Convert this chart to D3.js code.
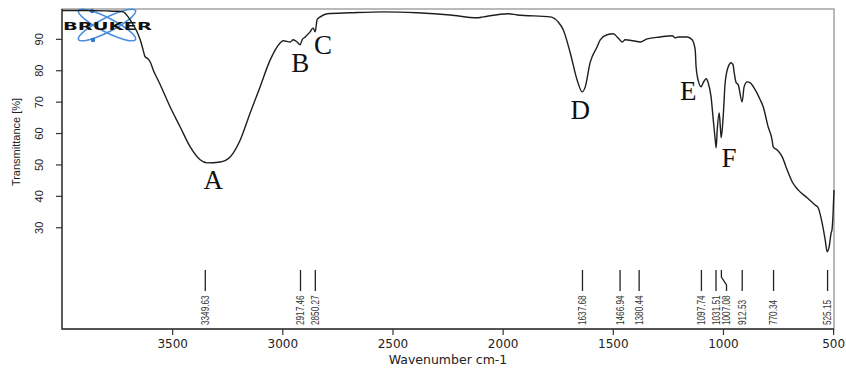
<!DOCTYPE html>
<html>
<head>
<meta charset="utf-8">
<script src="https://cdn.jsdelivr.net/npm/d3@7"></script>
<style>
  body { margin: 0; background: #fff; }
  svg { display: block; }
</style>
</head>
<body>
<svg id="chart" width="846" height="370"></svg>
<script>
// spectrum (wavenumber cm-1, transmittance %)
const wavenumber = [4000, 3900, 3800, 3760, 3740, 3722, 3700, 3677, 3659, 3645, 3632, 3623, 3609, 3600, 3586,
  3554, 3509, 3464, 3418, 3373, 3341, 3282, 3237, 3191, 3146, 3101, 3055, 3010, 2996, 2964, 2951, 2933,
  2919, 2910, 2896, 2874, 2860, 2851, 2842, 2828, 2796, 2692, 2542, 2388, 2238, 2116, 2088, 1975, 1934,
  1784, 1748, 1725, 1693, 1662, 1639, 1625, 1603, 1571, 1557, 1526, 1498, 1476, 1457, 1444, 1408, 1376,
  1344, 1285, 1230, 1217, 1203, 1162, 1140, 1126, 1122, 1113, 1099, 1090, 1076, 1067, 1054, 1044, 1035,
  1031, 1026, 1017, 1012, 1008, 999, 990, 976, 963, 954, 949, 940, 931, 913, 904, 890, 876, 854, 831,
  817, 795, 777, 772, 754, 731, 709, 686, 659, 618, 582, 568, 550, 536, 527, 518, 509, 505, 500, 496];
const transmittance = [99.0, 99.0, 98.9, 98.8, 98.8, 98.6, 97.0, 94.5, 92.2, 89.7, 86.5, 84.3, 83.6, 82.7, 80.1,
  75.4, 68.3, 62.0, 55.6, 51.5, 50.5, 50.8, 52.4, 57.8, 66.4, 74.7, 83.3, 88.7, 89.4, 89.0, 89.7, 89.0,
  88.1, 89.7, 90.6, 92.2, 93.5, 92.2, 96.1, 97.0, 98.0, 98.3, 98.6, 98.3, 97.6, 96.7, 97.0, 98.0, 97.6,
  97.0, 95.4, 92.9, 85.5, 76.9, 73.1, 74.7, 82.4, 87.5, 89.7, 91.3, 91.6, 90.3, 89.0, 89.7, 89.4, 89.0,
  90.0, 90.6, 91.0, 90.3, 90.6, 90.6, 89.7, 86.5, 81.1, 76.9, 74.7, 76.0, 77.3, 76.0, 71.5, 64.2, 57.8,
  55.3, 61.0, 66.4, 62.0, 58.5, 65.2, 76.0, 81.1, 82.4, 81.7, 79.2, 76.0, 75.4, 69.9, 74.7, 76.3, 76.0, 73.8, 70.6,
  68.3, 62.0, 57.8, 55.6, 54.6, 52.4, 48.3, 44.5, 41.9, 39.4, 37.1, 36.2, 31.4, 26.0, 22.2, 23.8, 28.2, 29.2, 34.6, 41.9];

const peakPositions = [3349.63, 2917.46, 2850.27, 1637.68, 1466.94, 1380.44, 1097.74, 1031.51, 1007.08, 912.53, 770.34, 525.15];
const peakTexts = ["3349.63", "2917.46", "2850.27", "1637.68", "1466.94", "1380.44", "1097.74", "1031.51", "1007.08", "912.53", "770.34", "525.15"];

const bandLetters = ["A", "B", "C", "D", "E", "F"];
const bandLetterWavenumber = [3314, 2919, 2815, 1648, 1158, 972];
const bandLetterTransmittance = [45.1, 82.4, 88.1, 67.4, 73.4, 52.1];

const xTicks = [3500, 3000, 2500, 2000, 1500, 1000, 500];
const yTicks = [30, 40, 50, 60, 70, 80, 90];

const plot = { left: 62, right: 834, top: 9, bottom: 329 };

const svg = d3.select("#chart");

const x = d3.scaleLinear().domain([4000, 496]).range([plot.left, plot.right]);
const y = d3.scaleLinear().domain([-2.4, 99.5]).range([plot.bottom, plot.top]);

// frame
svg.append("rect")
  .attr("x", plot.left).attr("y", plot.top)
  .attr("width", plot.right - plot.left).attr("height", plot.bottom - plot.top)
  .attr("fill", "none").attr("stroke", "#8c8c8c").attr("stroke-width", 1.2);
svg.append("path")
  .attr("d", `M${plot.left},${plot.top}V${plot.bottom}H${plot.right}`)
  .attr("fill", "none").attr("stroke", "#333").attr("stroke-width", 1.4);

// x axis
const xAxis = svg.append("g")
  .attr("transform", "translate(0," + plot.bottom + ")")
  .call(d3.axisBottom(x).tickValues(xTicks).tickSize(6).tickPadding(4).tickFormat(d3.format("d")));
xAxis.select(".domain").remove();
xAxis.selectAll("line").attr("stroke", "#333").attr("stroke-width", 1.2);
xAxis.selectAll("text")
  .style("font-family", "'DejaVu Sans', sans-serif")
  .style("font-size", "12px")
  .attr("fill", "#222");

// y axis
const yAxis = svg.append("g")
  .attr("transform", "translate(" + plot.left + ",0)")
  .call(d3.axisLeft(y).tickValues(yTicks).tickSize(6));
yAxis.select(".domain").remove();
yAxis.selectAll("line").attr("stroke", "#333").attr("stroke-width", 1.2);
yAxis.selectAll("text")
  .attr("x", null).attr("dy", null)
  .attr("text-anchor", "middle")
  .attr("transform", "translate(-19,0) rotate(-90)")
  .style("font-family", "'Liberation Sans', Arial, sans-serif")
  .style("font-size", "11px")
  .attr("fill", "#222");

// axis titles
svg.append("text")
  .attr("x", (plot.left + plot.right) / 2).attr("y", 364)
  .attr("text-anchor", "middle")
  .style("font-family", "'DejaVu Sans', sans-serif")
  .style("font-size", "12.5px")
  .attr("fill", "#222")
  .text("Wavenumber cm-1");

svg.append("text")
  .attr("transform", "translate(20,142) rotate(-90)")
  .attr("text-anchor", "middle")
  .style("font-family", "'Liberation Sans', Arial, sans-serif")
  .style("font-size", "11px")
  .attr("fill", "#222")
  .text("Transmittance [%]");

// Bruker logo
const logo = svg.append("g").attr("transform", "translate(107,25)");
[-27, 27].forEach(a => {
  logo.append("ellipse")
    .attr("rx", 32).attr("ry", 7)
    .attr("transform", "rotate(" + a + ")")
    .attr("fill", "none").attr("stroke", "#4a8fdc").attr("stroke-width", 1.6);
});
logo.append("circle").attr("cx", -14).attr("cy", 15).attr("r", 2.2).attr("fill", "#2f78cc");
logo.append("circle").attr("cx", -15).attr("cy", -14).attr("r", 2.2).attr("fill", "#2f78cc");
svg.append("text")
  .attr("x", 63).attr("y", 29.5)
  .attr("textLength", 89).attr("lengthAdjust", "spacingAndGlyphs")
  .style("font-family", "'DejaVu Sans', sans-serif")
  .style("font-size", "10.5px").style("font-weight", "bold")
  .attr("fill", "#111")
  .text("BRUKER");

// spectrum
svg.append("clipPath").attr("id", "clip")
  .append("rect")
  .attr("x", plot.left).attr("y", plot.top)
  .attr("width", plot.right - plot.left + 1).attr("height", plot.bottom - plot.top);

const line = d3.line()
  .x((d, i) => x(wavenumber[i]))
  .y((d, i) => y(transmittance[i]))
  .curve(d3.curveMonotoneX);

svg.append("path")
  .datum(wavenumber)
  .attr("clip-path", "url(#clip)")
  .attr("d", line)
  .attr("fill", "none")
  .attr("stroke", "#1e1e1e")
  .attr("stroke-width", 1.4)
  .attr("stroke-linejoin", "round");

// peak markers with labels, labels pushed apart when they would overlap
let prevLabelX = -Infinity;
const peaks = peakPositions.map((p, i) => {
  const px = x(p);
  const lx = Math.max(px, prevLabelX + 10.5);
  prevLabelX = lx;
  return { px, lx, text: peakTexts[i] };
});

const peakG = svg.append("g");
peakG.selectAll("path")
  .data(peaks)
  .enter()
  .append("path")
  .attr("d", d => d.lx === d.px
    ? `M${d.px},270V291`
    : `M${d.px},270V277L${d.lx},285V291`)
  .attr("fill", "none")
  .attr("stroke", "#222")
  .attr("stroke-width", 1.3);

peakG.selectAll("text")
  .data(peaks)
  .enter()
  .append("text")
  .attr("transform", d => "translate(" + (d.lx + 3.6) + ",325) rotate(-90) scale(0.82,1)")
  .attr("text-anchor", "start")
  .style("font-family", "'Liberation Sans', Arial, sans-serif")
  .style("font-size", "10px")
  .attr("fill", "#333")
  .text(d => d.text);

// band letters
svg.append("g").selectAll("text")
  .data(bandLetters)
  .enter()
  .append("text")
  .attr("x", (d, i) => x(bandLetterWavenumber[i]))
  .attr("y", (d, i) => y(bandLetterTransmittance[i]) + 9)
  .attr("text-anchor", "middle")
  .style("font-family", "'Liberation Serif', 'Times New Roman', serif")
  .style("font-size", "27px")
  .attr("fill", "#111")
  .text(d => d);
</script>
</body>
</html>
